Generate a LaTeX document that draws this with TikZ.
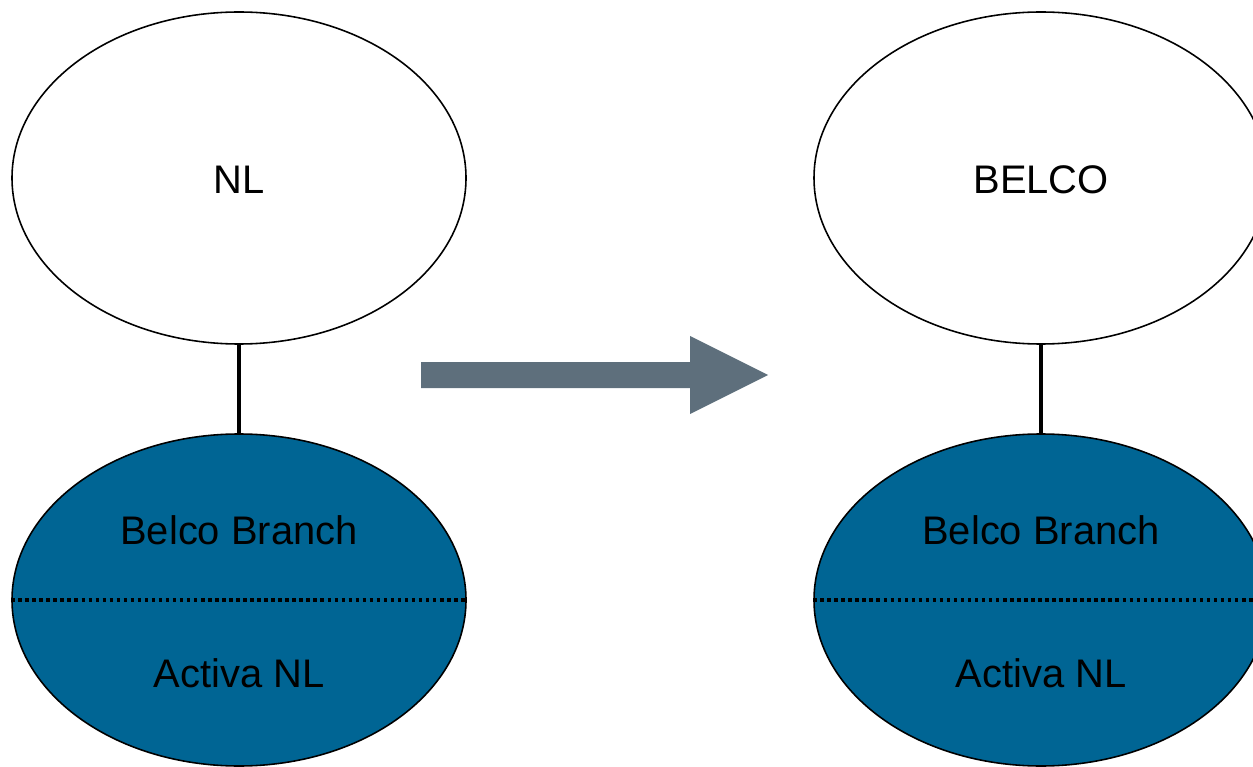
\documentclass[tikz,border=0pt]{standalone}
\usepackage{fontspec}
\setmainfont{Liberation Sans}
\definecolor{entityblue}{RGB}{0,101,148}
\definecolor{arrowgrey}{RGB}{94,111,124}
\tikzset{
  entity/.style={ellipse,draw,line width=0.9pt,minimum width=9.08cm,
    minimum height=6.64cm,inner sep=0pt,font=\fontsize{22.7}{27}\selectfont},
  branch/.style={entity,fill=entityblue},
  link/.style={line width=2pt},
  split/.style={line width=2.1pt,dash pattern=on 2pt off 2pt}
}
\usetikzlibrary{shapes.geometric}
\begin{document}
  \begin{tikzpicture}
    \useasboundingbox (0,0) rectangle (25.06,15.32);
    \clip (0,0) rectangle (25.06,15.32);
    % before
    \node[entity] (nl) at (4.78,11.76) {};
    \node[font=\fontsize{22.7}{27}\selectfont] (nltext) at (4.78,11.72) {NL};
    \node[branch] (nlbranch) at (4.78,3.32) {};
    \draw[link] (nl.south) -- (nlbranch.north);
    \draw[split] (nlbranch.west) -- (nlbranch.east);
    \node[font=\fontsize{22.7}{27}\selectfont] (belcoa) at (4.78,4.72) {Belco Branch};
    \node[font=\fontsize{22.7}{27}\selectfont] (activaa) at (4.78,1.86) {Activa NL};
    % after
    \node[entity] (belco) at (20.82,11.76) {};
    \node[font=\fontsize{22.7}{27}\selectfont] (belcotext) at (20.82,11.72) {BELCO};
    \node[branch] (belcobranch) at (20.82,3.32) {};
    \draw[link] (belco.south) -- (belcobranch.north);
    \draw[split] (belcobranch.west) -- (belcobranch.east);
    \node[font=\fontsize{22.7}{27}\selectfont] (belcob) at (20.82,4.72) {Belco Branch};
    \node[font=\fontsize{22.7}{27}\selectfont] (activab) at (20.82,1.86) {Activa NL};
    % big arrow
    \fill[arrowgrey] (8.42,7.56) -- (13.8,7.56) -- (13.8,7.04) -- (15.36,7.82)
      -- (13.8,8.6) -- (13.8,8.08) -- (8.42,8.08) -- cycle;
  \end{tikzpicture}
\end{document}
